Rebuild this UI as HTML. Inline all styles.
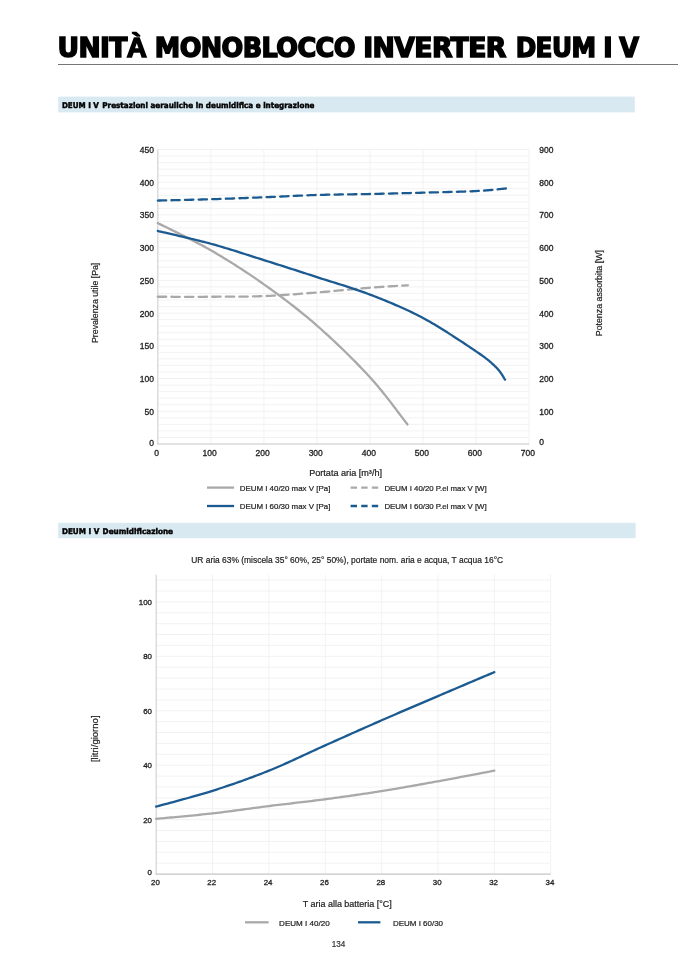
<!DOCTYPE html>
<html lang="it"><head><meta charset="utf-8"><title>Unità monoblocco inverter DEUM I V</title>
<style>
html,body{margin:0;padding:0;background:#fff;}
body{width:678px;height:959px;position:relative;overflow:hidden;}
svg{position:absolute;left:0;top:0;display:block;}
</style></head><body>
<svg width="678" height="959" viewBox="0 0 678 959">
<rect x="58" y="64" width="620" height="1" fill="#767676"/>
<rect x="58.2" y="96.6" width="576.6" height="15.8" fill="#d9e9f1"/>
<rect x="58.2" y="522.8" width="577.4" height="15.4" fill="#d9e9f1"/>
<g stroke="#f0f0f0" stroke-width="0.9">
<line x1="157.8" y1="437.46" x2="529.1" y2="437.46"/>
<line x1="157.8" y1="430.91" x2="529.1" y2="430.91"/>
<line x1="157.8" y1="424.37" x2="529.1" y2="424.37"/>
<line x1="157.8" y1="417.82" x2="529.1" y2="417.82"/>
<line x1="157.8" y1="411.28" x2="529.1" y2="411.28"/>
<line x1="157.8" y1="404.73" x2="529.1" y2="404.73"/>
<line x1="157.8" y1="398.19" x2="529.1" y2="398.19"/>
<line x1="157.8" y1="391.64" x2="529.1" y2="391.64"/>
<line x1="157.8" y1="385.10" x2="529.1" y2="385.10"/>
<line x1="157.8" y1="378.56" x2="529.1" y2="378.56"/>
<line x1="157.8" y1="372.01" x2="529.1" y2="372.01"/>
<line x1="157.8" y1="365.47" x2="529.1" y2="365.47"/>
<line x1="157.8" y1="358.92" x2="529.1" y2="358.92"/>
<line x1="157.8" y1="352.38" x2="529.1" y2="352.38"/>
<line x1="157.8" y1="345.83" x2="529.1" y2="345.83"/>
<line x1="157.8" y1="339.29" x2="529.1" y2="339.29"/>
<line x1="157.8" y1="332.74" x2="529.1" y2="332.74"/>
<line x1="157.8" y1="326.20" x2="529.1" y2="326.20"/>
<line x1="157.8" y1="319.66" x2="529.1" y2="319.66"/>
<line x1="157.8" y1="313.11" x2="529.1" y2="313.11"/>
<line x1="157.8" y1="306.57" x2="529.1" y2="306.57"/>
<line x1="157.8" y1="300.02" x2="529.1" y2="300.02"/>
<line x1="157.8" y1="293.48" x2="529.1" y2="293.48"/>
<line x1="157.8" y1="286.93" x2="529.1" y2="286.93"/>
<line x1="157.8" y1="280.39" x2="529.1" y2="280.39"/>
<line x1="157.8" y1="273.84" x2="529.1" y2="273.84"/>
<line x1="157.8" y1="267.30" x2="529.1" y2="267.30"/>
<line x1="157.8" y1="260.76" x2="529.1" y2="260.76"/>
<line x1="157.8" y1="254.21" x2="529.1" y2="254.21"/>
<line x1="157.8" y1="247.67" x2="529.1" y2="247.67"/>
<line x1="157.8" y1="241.12" x2="529.1" y2="241.12"/>
<line x1="157.8" y1="234.58" x2="529.1" y2="234.58"/>
<line x1="157.8" y1="228.03" x2="529.1" y2="228.03"/>
<line x1="157.8" y1="221.49" x2="529.1" y2="221.49"/>
<line x1="157.8" y1="214.94" x2="529.1" y2="214.94"/>
<line x1="157.8" y1="208.40" x2="529.1" y2="208.40"/>
<line x1="157.8" y1="201.86" x2="529.1" y2="201.86"/>
<line x1="157.8" y1="195.31" x2="529.1" y2="195.31"/>
<line x1="157.8" y1="188.77" x2="529.1" y2="188.77"/>
<line x1="157.8" y1="182.22" x2="529.1" y2="182.22"/>
<line x1="157.8" y1="175.68" x2="529.1" y2="175.68"/>
<line x1="157.8" y1="169.13" x2="529.1" y2="169.13"/>
<line x1="157.8" y1="162.59" x2="529.1" y2="162.59"/>
<line x1="157.8" y1="156.04" x2="529.1" y2="156.04"/>
<line x1="157.8" y1="149.50" x2="529.1" y2="149.50"/>
<line x1="210.84" y1="149.5" x2="210.84" y2="444.0"/>
<line x1="263.89" y1="149.5" x2="263.89" y2="444.0"/>
<line x1="316.93" y1="149.5" x2="316.93" y2="444.0"/>
<line x1="369.97" y1="149.5" x2="369.97" y2="444.0"/>
<line x1="423.01" y1="149.5" x2="423.01" y2="444.0"/>
<line x1="476.06" y1="149.5" x2="476.06" y2="444.0"/>
<line x1="529.10" y1="149.5" x2="529.10" y2="444.0"/>
<line x1="156.2" y1="863.21" x2="550.7" y2="863.21"/>
<line x1="156.2" y1="852.32" x2="550.7" y2="852.32"/>
<line x1="156.2" y1="841.44" x2="550.7" y2="841.44"/>
<line x1="156.2" y1="830.55" x2="550.7" y2="830.55"/>
<line x1="156.2" y1="819.66" x2="550.7" y2="819.66"/>
<line x1="156.2" y1="808.77" x2="550.7" y2="808.77"/>
<line x1="156.2" y1="797.88" x2="550.7" y2="797.88"/>
<line x1="156.2" y1="787.00" x2="550.7" y2="787.00"/>
<line x1="156.2" y1="776.11" x2="550.7" y2="776.11"/>
<line x1="156.2" y1="765.22" x2="550.7" y2="765.22"/>
<line x1="156.2" y1="754.33" x2="550.7" y2="754.33"/>
<line x1="156.2" y1="743.44" x2="550.7" y2="743.44"/>
<line x1="156.2" y1="732.56" x2="550.7" y2="732.56"/>
<line x1="156.2" y1="721.67" x2="550.7" y2="721.67"/>
<line x1="156.2" y1="710.78" x2="550.7" y2="710.78"/>
<line x1="156.2" y1="699.89" x2="550.7" y2="699.89"/>
<line x1="156.2" y1="689.00" x2="550.7" y2="689.00"/>
<line x1="156.2" y1="678.12" x2="550.7" y2="678.12"/>
<line x1="156.2" y1="667.23" x2="550.7" y2="667.23"/>
<line x1="156.2" y1="656.34" x2="550.7" y2="656.34"/>
<line x1="156.2" y1="645.45" x2="550.7" y2="645.45"/>
<line x1="156.2" y1="634.56" x2="550.7" y2="634.56"/>
<line x1="156.2" y1="623.68" x2="550.7" y2="623.68"/>
<line x1="156.2" y1="612.79" x2="550.7" y2="612.79"/>
<line x1="156.2" y1="601.90" x2="550.7" y2="601.90"/>
<line x1="156.2" y1="591.01" x2="550.7" y2="591.01"/>
<line x1="156.2" y1="580.12" x2="550.7" y2="580.12"/>
<line x1="212.56" y1="574.7" x2="212.56" y2="874.1"/>
<line x1="268.91" y1="574.7" x2="268.91" y2="874.1"/>
<line x1="325.27" y1="574.7" x2="325.27" y2="874.1"/>
<line x1="381.63" y1="574.7" x2="381.63" y2="874.1"/>
<line x1="437.99" y1="574.7" x2="437.99" y2="874.1"/>
<line x1="494.34" y1="574.7" x2="494.34" y2="874.1"/>
<line x1="550.70" y1="574.7" x2="550.70" y2="874.1"/>
</g>
<g font-family="Liberation Sans, Arial, sans-serif" font-size="8.5" fill="#222" stroke="#222" stroke-width="0.3">
<line x1="157.80" y1="149.5" x2="157.80" y2="444.6" stroke="#d4d4d4" stroke-width="1.2"/>
<line x1="157.20" y1="444.0" x2="529.10" y2="444.0" stroke="#c6c6c6" stroke-width="1.2"/>
<text x="153.9" y="445.50" text-anchor="end">0</text>
<text x="153.9" y="414.78" text-anchor="end">50</text>
<text x="153.9" y="382.06" text-anchor="end">100</text>
<text x="153.9" y="349.33" text-anchor="end">150</text>
<text x="153.9" y="316.61" text-anchor="end">200</text>
<text x="153.9" y="283.89" text-anchor="end">250</text>
<text x="153.9" y="251.17" text-anchor="end">300</text>
<text x="153.9" y="218.44" text-anchor="end">350</text>
<text x="153.9" y="185.72" text-anchor="end">400</text>
<text x="153.9" y="153.00" text-anchor="end">450</text>
<text x="539.3" y="444.70">0</text>
<text x="539.3" y="414.78">100</text>
<text x="539.3" y="382.06">200</text>
<text x="539.3" y="349.33">300</text>
<text x="539.3" y="316.61">400</text>
<text x="539.3" y="283.89">500</text>
<text x="539.3" y="251.17">600</text>
<text x="539.3" y="218.44">700</text>
<text x="539.3" y="185.72">800</text>
<text x="539.3" y="153.00">900</text>
<text x="156.60" y="456.2" text-anchor="middle">0</text>
<text x="209.64" y="456.2" text-anchor="middle">100</text>
<text x="262.69" y="456.2" text-anchor="middle">200</text>
<text x="315.73" y="456.2" text-anchor="middle">300</text>
<text x="368.77" y="456.2" text-anchor="middle">400</text>
<text x="421.81" y="456.2" text-anchor="middle">500</text>
<text x="474.86" y="456.2" text-anchor="middle">600</text>
<text x="527.90" y="456.2" text-anchor="middle">700</text>
<line x1="156.20" y1="574.7" x2="156.20" y2="874.7" stroke="#d4d4d4" stroke-width="1.2"/>
<line x1="155.60" y1="874.1" x2="550.70" y2="874.1" stroke="#c6c6c6" stroke-width="1.2"/>
<text x="152.0" y="874.50" text-anchor="end" font-size="7.9">0</text>
<text x="152.0" y="822.56" text-anchor="end" font-size="7.9">20</text>
<text x="152.0" y="768.12" text-anchor="end" font-size="7.9">40</text>
<text x="152.0" y="713.68" text-anchor="end" font-size="7.9">60</text>
<text x="152.0" y="659.24" text-anchor="end" font-size="7.9">80</text>
<text x="152.0" y="604.80" text-anchor="end" font-size="7.9">100</text>
<text x="155.40" y="884.9" text-anchor="middle" font-size="7.9">20</text>
<text x="211.76" y="884.9" text-anchor="middle" font-size="7.9">22</text>
<text x="268.11" y="884.9" text-anchor="middle" font-size="7.9">24</text>
<text x="324.47" y="884.9" text-anchor="middle" font-size="7.9">26</text>
<text x="380.83" y="884.9" text-anchor="middle" font-size="7.9">28</text>
<text x="437.19" y="884.9" text-anchor="middle" font-size="7.9">30</text>
<text x="493.54" y="884.9" text-anchor="middle" font-size="7.9">32</text>
<text x="549.90" y="884.9" text-anchor="middle" font-size="7.9">34</text>
</g>
<g fill="none" stroke-width="2.3" stroke-linecap="round" stroke-linejoin="round">
<path d="M157.80,296.75 L159.00,296.75 L160.36,296.75 L161.89,296.75 L163.57,296.76 L165.39,296.76 L167.33,296.77 L169.39,296.77 L171.55,296.77 L173.81,296.78 L176.14,296.78 L178.54,296.79 L181.01,296.79 L183.51,296.79 L186.06,296.80 L188.62,296.80 L191.20,296.80 L193.77,296.80 L196.34,296.80 L198.88,296.79 L201.39,296.79 L203.85,296.78 L206.25,296.77 L208.59,296.76 L210.84,296.75 L213.05,296.74 L215.26,296.73 L217.47,296.72 L219.68,296.71 L221.89,296.71 L224.10,296.70 L226.31,296.70 L228.52,296.69 L230.73,296.68 L232.94,296.67 L235.15,296.66 L237.36,296.65 L239.57,296.63 L241.78,296.61 L243.99,296.59 L246.20,296.56 L248.41,296.52 L250.62,296.48 L252.84,296.44 L255.05,296.38 L257.26,296.32 L259.47,296.26 L261.68,296.18 L263.89,296.10 L266.10,296.00 L268.31,295.90 L270.52,295.79 L272.73,295.68 L274.94,295.56 L277.15,295.43 L279.36,295.30 L281.57,295.16 L283.78,295.01 L285.99,294.86 L288.20,294.71 L290.41,294.55 L292.62,294.39 L294.83,294.23 L297.04,294.06 L299.25,293.89 L301.46,293.72 L303.67,293.55 L305.88,293.37 L308.09,293.20 L310.30,293.02 L312.51,292.85 L314.72,292.67 L316.93,292.50 L319.15,292.32 L321.40,292.13 L323.66,291.94 L325.94,291.74 L328.24,291.54 L330.54,291.33 L332.85,291.12 L335.17,290.90 L337.48,290.69 L339.80,290.47 L342.10,290.25 L344.39,290.03 L346.68,289.82 L348.94,289.60 L351.19,289.39 L353.41,289.18 L355.61,288.98 L357.77,288.77 L359.91,288.58 L362.01,288.39 L364.06,288.21 L366.08,288.04 L368.05,287.87 L369.97,287.72 L371.96,287.56 L373.95,287.41 L375.94,287.27 L377.94,287.13 L379.92,286.99 L381.90,286.86 L383.85,286.73 L385.78,286.61 L387.68,286.49 L389.54,286.37 L391.36,286.26 L393.13,286.16 L394.85,286.06 L396.51,285.96 L398.11,285.87 L399.63,285.78 L401.09,285.70 L402.46,285.62 L403.74,285.55 L404.93,285.48 L406.03,285.41 L407.02,285.35 L407.90,285.30" stroke="#a9a9a9" stroke-dasharray="8.4 5.2"/>
<path d="M157.80,200.55 L159.00,200.52 L160.36,200.49 L161.89,200.45 L163.57,200.41 L165.39,200.37 L167.33,200.33 L169.39,200.28 L171.55,200.23 L173.81,200.18 L176.14,200.13 L178.54,200.07 L181.01,200.01 L183.51,199.96 L186.06,199.90 L188.62,199.83 L191.20,199.77 L193.77,199.71 L196.34,199.64 L198.88,199.58 L201.39,199.51 L203.85,199.44 L206.25,199.37 L208.59,199.31 L210.84,199.24 L213.05,199.17 L215.26,199.10 L217.47,199.03 L219.68,198.95 L221.89,198.88 L224.10,198.80 L226.31,198.72 L228.52,198.64 L230.73,198.56 L232.94,198.48 L235.15,198.40 L237.36,198.32 L239.57,198.23 L241.78,198.15 L243.99,198.06 L246.20,197.98 L248.41,197.89 L250.62,197.80 L252.84,197.72 L255.05,197.63 L257.26,197.54 L259.47,197.45 L261.68,197.36 L263.89,197.27 L266.10,197.18 L268.31,197.09 L270.52,196.99 L272.73,196.90 L274.94,196.80 L277.15,196.69 L279.36,196.59 L281.57,196.49 L283.78,196.38 L285.99,196.28 L288.20,196.17 L290.41,196.07 L292.62,195.96 L294.83,195.86 L297.04,195.76 L299.25,195.66 L301.46,195.57 L303.67,195.47 L305.88,195.38 L308.09,195.29 L310.30,195.21 L312.51,195.13 L314.72,195.05 L316.93,194.98 L319.14,194.92 L321.35,194.86 L323.56,194.80 L325.77,194.75 L327.98,194.70 L330.19,194.65 L332.40,194.61 L334.61,194.57 L336.82,194.53 L339.03,194.50 L341.24,194.46 L343.45,194.43 L345.66,194.40 L347.87,194.37 L350.08,194.34 L352.29,194.31 L354.50,194.27 L356.71,194.24 L358.92,194.21 L361.13,194.17 L363.34,194.13 L365.55,194.09 L367.76,194.05 L369.97,194.00 L372.18,193.95 L374.39,193.91 L376.60,193.86 L378.81,193.81 L381.02,193.76 L383.23,193.71 L385.44,193.65 L387.65,193.60 L389.86,193.55 L392.07,193.50 L394.28,193.44 L396.49,193.39 L398.70,193.33 L400.91,193.28 L403.12,193.22 L405.33,193.17 L407.54,193.11 L409.75,193.05 L411.96,192.99 L414.17,192.93 L416.38,192.87 L418.59,192.81 L420.80,192.75 L423.01,192.69 L425.24,192.63 L427.51,192.57 L429.80,192.51 L432.12,192.45 L434.46,192.39 L436.81,192.33 L439.17,192.27 L441.54,192.21 L443.91,192.15 L446.27,192.08 L448.62,192.02 L450.96,191.96 L453.28,191.89 L455.57,191.83 L457.84,191.76 L460.07,191.69 L462.26,191.62 L464.40,191.54 L466.50,191.47 L468.54,191.39 L470.52,191.31 L472.44,191.23 L474.28,191.14 L476.06,191.06 L477.85,190.96 L479.62,190.86 L481.35,190.74 L483.05,190.63 L484.71,190.51 L486.33,190.38 L487.91,190.25 L489.45,190.12 L490.95,189.98 L492.40,189.85 L493.81,189.71 L495.16,189.58 L496.46,189.45 L497.72,189.32 L498.91,189.20 L500.05,189.08 L501.13,188.96 L502.15,188.85 L503.11,188.75 L504.01,188.66 L504.84,188.58 L505.60,188.50 L506.29,188.44" stroke="#1c5b91" stroke-dasharray="8.4 5.2"/>
<path d="M157.80,223.06 L159.00,223.67 L160.36,224.35 L161.89,225.11 L163.57,225.94 L165.39,226.84 L167.33,227.79 L169.39,228.80 L171.55,229.87 L173.81,230.98 L176.14,232.13 L178.54,233.32 L181.01,234.55 L183.51,235.80 L186.06,237.08 L188.62,238.38 L191.20,239.70 L193.77,241.03 L196.34,242.36 L198.88,243.70 L201.39,245.04 L203.85,246.37 L206.25,247.69 L208.59,249.00 L210.84,250.28 L213.05,251.57 L215.26,252.86 L217.47,254.16 L219.68,255.48 L221.89,256.81 L224.10,258.14 L226.31,259.50 L228.52,260.86 L230.73,262.23 L232.94,263.62 L235.15,265.01 L237.36,266.42 L239.57,267.85 L241.78,269.28 L243.99,270.73 L246.20,272.19 L248.41,273.66 L250.62,275.14 L252.84,276.64 L255.05,278.15 L257.26,279.67 L259.47,281.21 L261.68,282.75 L263.89,284.32 L266.10,285.89 L268.31,287.47 L270.52,289.05 L272.73,290.65 L274.94,292.26 L277.15,293.87 L279.36,295.50 L281.57,297.14 L283.78,298.79 L285.99,300.45 L288.20,302.13 L290.41,303.83 L292.62,305.53 L294.83,307.26 L297.04,309.00 L299.25,310.76 L301.46,312.54 L303.67,314.33 L305.88,316.15 L308.09,317.98 L310.30,319.84 L312.51,321.72 L314.72,323.62 L316.93,325.55 L319.15,327.50 L321.40,329.50 L323.67,331.54 L325.95,333.61 L328.25,335.71 L330.55,337.84 L332.87,339.99 L335.19,342.17 L337.50,344.36 L339.82,346.57 L342.12,348.79 L344.42,351.02 L346.71,353.26 L348.97,355.49 L351.22,357.73 L353.44,359.96 L355.64,362.18 L357.80,364.39 L359.94,366.59 L362.03,368.77 L364.08,370.93 L366.10,373.06 L368.06,375.17 L369.97,377.25 L371.94,379.43 L373.93,381.68 L375.91,383.97 L377.88,386.31 L379.85,388.68 L381.80,391.06 L383.74,393.46 L385.64,395.85 L387.52,398.24 L389.36,400.60 L391.16,402.92 L392.91,405.21 L394.60,407.43 L396.24,409.60 L397.82,411.69 L399.32,413.69 L400.75,415.60 L402.10,417.40 L403.37,419.08 L404.55,420.64 L405.62,422.05 L406.60,423.32 L407.47,424.43" stroke="#a9a9a9"/>
<path d="M157.80,230.98 L159.00,231.26 L160.36,231.58 L161.89,231.94 L163.57,232.33 L165.39,232.74 L167.33,233.19 L169.39,233.66 L171.55,234.15 L173.81,234.67 L176.14,235.21 L178.54,235.76 L181.01,236.34 L183.51,236.92 L186.06,237.52 L188.62,238.13 L191.20,238.75 L193.77,239.37 L196.34,240.00 L198.88,240.63 L201.39,241.26 L203.85,241.89 L206.25,242.51 L208.59,243.13 L210.84,243.74 L213.05,244.35 L215.26,244.98 L217.47,245.61 L219.68,246.25 L221.89,246.90 L224.10,247.56 L226.31,248.23 L228.52,248.90 L230.73,249.58 L232.94,250.27 L235.15,250.96 L237.36,251.65 L239.57,252.35 L241.78,253.06 L243.99,253.76 L246.20,254.47 L248.41,255.17 L250.62,255.88 L252.84,256.59 L255.05,257.29 L257.26,258.00 L259.47,258.70 L261.68,259.40 L263.89,260.10 L266.10,260.80 L268.31,261.49 L270.52,262.19 L272.73,262.89 L274.94,263.60 L277.15,264.30 L279.36,265.00 L281.57,265.71 L283.78,266.41 L285.99,267.12 L288.20,267.83 L290.41,268.54 L292.62,269.25 L294.83,269.96 L297.04,270.67 L299.25,271.39 L301.46,272.10 L303.67,272.82 L305.88,273.53 L308.09,274.25 L310.30,274.96 L312.51,275.68 L314.72,276.40 L316.93,277.12 L319.14,277.83 L321.35,278.54 L323.56,279.24 L325.77,279.93 L327.98,280.62 L330.19,281.31 L332.40,282.00 L334.61,282.69 L336.82,283.37 L339.03,284.06 L341.24,284.76 L343.45,285.45 L345.66,286.16 L347.87,286.86 L350.08,287.58 L352.29,288.31 L354.50,289.04 L356.71,289.79 L358.92,290.55 L361.13,291.33 L363.34,292.12 L365.55,292.92 L367.76,293.75 L369.97,294.59 L372.18,295.44 L374.39,296.30 L376.60,297.17 L378.81,298.04 L381.02,298.91 L383.23,299.80 L385.44,300.69 L387.65,301.59 L389.86,302.51 L392.07,303.43 L394.28,304.37 L396.49,305.32 L398.70,306.28 L400.91,307.26 L403.12,308.25 L405.33,309.26 L407.54,310.28 L409.75,311.33 L411.96,312.39 L414.17,313.47 L416.38,314.58 L418.59,315.70 L420.80,316.85 L423.01,318.02 L425.25,319.23 L427.54,320.50 L429.87,321.83 L432.24,323.20 L434.63,324.61 L437.05,326.06 L439.48,327.53 L441.91,329.03 L444.35,330.54 L446.78,332.07 L449.20,333.60 L451.59,335.13 L453.96,336.66 L456.29,338.17 L458.57,339.67 L460.81,341.14 L462.99,342.58 L465.11,343.98 L467.15,345.34 L469.12,346.66 L471.00,347.92 L472.79,349.13 L474.48,350.26 L476.06,351.33 L477.54,352.33 L478.92,353.29 L480.23,354.19 L481.45,355.06 L482.60,355.88 L483.67,356.66 L484.68,357.40 L485.63,358.12 L486.52,358.80 L487.36,359.46 L488.15,360.09 L488.90,360.70 L489.61,361.29 L490.28,361.87 L490.93,362.44 L491.55,362.99 L492.16,363.54 L492.74,364.08 L493.32,364.63 L493.89,365.17 L494.46,365.72 L495.04,366.28 L495.62,366.85 L496.21,367.43 L496.83,368.05 L497.42,368.67 L497.99,369.30 L498.53,369.93 L499.05,370.56 L499.54,371.19 L500.01,371.82 L500.46,372.43 L500.89,373.05 L501.30,373.65 L501.69,374.23 L502.06,374.81 L502.41,375.37 L502.74,375.90 L503.06,376.42 L503.35,376.92 L503.63,377.39 L503.90,377.84 L504.15,378.26 L504.39,378.64 L504.61,379.00 L504.82,379.32 L505.02,379.60" stroke="#1c5b91"/>
<path d="M207,487.6 H234.1" stroke="#a9a9a9" stroke-linecap="butt"/>
<path d="M207,506.0 H234.1" stroke="#1c5b91" stroke-linecap="butt"/>
<path d="M350.6,487.6 H378.2" stroke="#a9a9a9" stroke-dasharray="6.4 4.2" stroke-linecap="butt"/>
<path d="M350.6,506.0 H378.2" stroke="#1c5b91" stroke-dasharray="6.4 4.2" stroke-linecap="butt"/>
<path d="M156.20,818.84 L157.47,818.72 L158.92,818.59 L160.55,818.44 L162.33,818.27 L164.26,818.10 L166.33,817.91 L168.51,817.71 L170.81,817.50 L173.21,817.28 L175.69,817.06 L178.24,816.82 L180.86,816.58 L183.52,816.33 L186.22,816.08 L188.95,815.82 L191.68,815.56 L194.42,815.29 L197.15,815.02 L199.85,814.75 L202.51,814.48 L205.13,814.21 L207.68,813.94 L210.16,813.67 L212.56,813.40 L214.91,813.13 L217.25,812.85 L219.60,812.57 L221.95,812.28 L224.30,811.98 L226.65,811.68 L228.99,811.38 L231.34,811.07 L233.69,810.76 L236.04,810.44 L238.39,810.13 L240.74,809.81 L243.08,809.49 L245.43,809.17 L247.78,808.85 L250.13,808.53 L252.48,808.21 L254.82,807.89 L257.17,807.58 L259.52,807.27 L261.87,806.96 L264.22,806.65 L266.57,806.35 L268.91,806.05 L271.26,805.76 L273.61,805.47 L275.96,805.18 L278.31,804.90 L280.66,804.62 L283.00,804.34 L285.35,804.07 L287.70,803.79 L290.05,803.52 L292.40,803.24 L294.74,802.97 L297.09,802.70 L299.44,802.42 L301.79,802.15 L304.14,801.87 L306.49,801.59 L308.83,801.31 L311.18,801.03 L313.53,800.74 L315.88,800.45 L318.23,800.16 L320.58,799.86 L322.92,799.55 L325.27,799.25 L327.62,798.93 L329.97,798.62 L332.32,798.30 L334.66,797.98 L337.01,797.66 L339.36,797.34 L341.71,797.01 L344.06,796.68 L346.41,796.35 L348.75,796.02 L351.10,795.69 L353.45,795.35 L355.80,795.01 L358.15,794.67 L360.49,794.32 L362.84,793.97 L365.19,793.62 L367.54,793.27 L369.89,792.91 L372.24,792.55 L374.58,792.19 L376.93,791.82 L379.28,791.45 L381.63,791.08 L383.98,790.70 L386.33,790.32 L388.67,789.94 L391.02,789.55 L393.37,789.16 L395.72,788.76 L398.07,788.37 L400.41,787.96 L402.76,787.56 L405.11,787.15 L407.46,786.74 L409.81,786.33 L412.16,785.92 L414.50,785.50 L416.85,785.09 L419.20,784.67 L421.55,784.25 L423.90,783.83 L426.24,783.40 L428.59,782.98 L430.94,782.55 L433.29,782.13 L435.64,781.71 L437.99,781.28 L440.49,780.82 L443.08,780.35 L445.75,779.86 L448.49,779.35 L451.28,778.83 L454.10,778.30 L456.95,777.77 L459.81,777.23 L462.66,776.69 L465.50,776.15 L468.30,775.62 L471.06,775.10 L473.75,774.59 L476.38,774.09 L478.91,773.60 L481.34,773.14 L483.66,772.70 L485.84,772.28 L487.89,771.89 L489.77,771.53 L491.48,771.21 L493.01,770.92 L494.34,770.66" stroke="#a9a9a9"/>
<path d="M156.20,806.59 L157.47,806.24 L158.92,805.85 L160.55,805.41 L162.33,804.93 L164.26,804.41 L166.33,803.86 L168.51,803.28 L170.81,802.66 L173.21,802.02 L175.69,801.36 L178.24,800.67 L180.86,799.96 L183.52,799.23 L186.22,798.49 L188.95,797.74 L191.68,796.98 L194.42,796.21 L197.15,795.43 L199.85,794.65 L202.51,793.87 L205.13,793.10 L207.68,792.33 L210.16,791.56 L212.56,790.81 L214.91,790.06 L217.25,789.30 L219.60,788.53 L221.95,787.76 L224.30,786.98 L226.65,786.20 L228.99,785.41 L231.34,784.61 L233.69,783.80 L236.04,782.98 L238.39,782.16 L240.74,781.33 L243.08,780.49 L245.43,779.64 L247.78,778.79 L250.13,777.92 L252.48,777.05 L254.82,776.17 L257.17,775.27 L259.52,774.37 L261.87,773.46 L264.22,772.54 L266.57,771.61 L268.91,770.66 L271.26,769.71 L273.61,768.73 L275.96,767.75 L278.31,766.74 L280.66,765.72 L283.00,764.69 L285.35,763.65 L287.70,762.60 L290.05,761.54 L292.40,760.47 L294.74,759.39 L297.09,758.31 L299.44,757.23 L301.79,756.14 L304.14,755.05 L306.49,753.96 L308.83,752.87 L311.18,751.78 L313.53,750.69 L315.88,749.61 L318.23,748.54 L320.58,747.47 L322.92,746.40 L325.27,745.35 L327.62,744.30 L329.97,743.25 L332.32,742.20 L334.66,741.15 L337.01,740.10 L339.36,739.05 L341.71,738.00 L344.06,736.95 L346.41,735.90 L348.75,734.85 L351.10,733.81 L353.45,732.76 L355.80,731.71 L358.15,730.67 L360.49,729.63 L362.84,728.58 L365.19,727.54 L367.54,726.50 L369.89,725.47 L372.24,724.43 L374.58,723.40 L376.93,722.36 L379.28,721.33 L381.63,720.31 L383.98,719.28 L386.33,718.26 L388.67,717.24 L391.02,716.22 L393.37,715.20 L395.72,714.19 L398.07,713.17 L400.41,712.16 L402.76,711.15 L405.11,710.14 L407.46,709.13 L409.81,708.13 L412.16,707.12 L414.50,706.11 L416.85,705.11 L419.20,704.11 L421.55,703.10 L423.90,702.10 L426.24,701.10 L428.59,700.09 L430.94,699.09 L433.29,698.09 L435.64,697.08 L437.99,696.08 L440.49,695.01 L443.08,693.91 L445.75,692.77 L448.49,691.60 L451.28,690.41 L454.10,689.21 L456.95,688.00 L459.81,686.78 L462.66,685.57 L465.50,684.37 L468.30,683.18 L471.06,682.01 L473.75,680.86 L476.38,679.75 L478.91,678.68 L481.34,677.65 L483.66,676.66 L485.84,675.74 L487.89,674.87 L489.77,674.07 L491.48,673.34 L493.01,672.69 L494.34,672.13" stroke="#1c5b91"/>
<path d="M245,922.3 H268.6" stroke="#a9a9a9" stroke-linecap="butt"/>
<path d="M358,922.3 H380.4" stroke="#1c5b91" stroke-linecap="butt"/>
</g>
<text transform="translate(57.49,57.00) scale(1.0102,1)" letter-spacing="-0.6" font-family="DejaVu Sans, sans-serif" font-size="26.3" fill="#000" font-weight="700" stroke="#000" stroke-width="1.5">UNIT<tspan font-family="Liberation Sans, sans-serif" font-size="27.6">À</tspan></text>
<text transform="translate(154.83,57.00) scale(0.9712,1)" letter-spacing="-0.6" font-family="DejaVu Sans, sans-serif" font-size="26.3" fill="#000" font-weight="700" stroke="#000" stroke-width="1.5">MONOBLOCCO</text>
<text transform="translate(363.19,57.00) scale(1.0149,1)" letter-spacing="-0.6" font-family="DejaVu Sans, sans-serif" font-size="26.3" fill="#000" font-weight="700" stroke="#000" stroke-width="1.5">INVERTER</text>
<text transform="translate(515.66,57.00) scale(0.9410,1)" letter-spacing="-0.6" font-family="DejaVu Sans, sans-serif" font-size="26.3" fill="#000" font-weight="700" stroke="#000" stroke-width="1.5">DEUM</text>
<text transform="translate(603.24,57.00) scale(0.9571,1)" letter-spacing="-0.6" font-family="DejaVu Sans, sans-serif" font-size="26.3" fill="#000" font-weight="700" stroke="#000" stroke-width="1.5">I</text>
<text transform="translate(619.27,57.00) scale(0.9682,1)" letter-spacing="-0.6" font-family="DejaVu Sans, sans-serif" font-size="26.3" fill="#000" font-weight="700" stroke="#000" stroke-width="1.5">V</text>
<text x="61.90" y="108.40" textLength="37.02" lengthAdjust="spacingAndGlyphs" font-family="DejaVu Sans, sans-serif" font-size="7.8" fill="#000" font-weight="700" stroke="#000" stroke-width="0.45">DEUM I V</text>
<text x="102.30" y="108.40" textLength="212.14" lengthAdjust="spacingAndGlyphs" font-family="DejaVu Sans, sans-serif" font-size="7.8" fill="#000" font-weight="700" stroke="#000" stroke-width="0.45">Prestazioni aerauliche in deumidifica e integrazione</text>
<text x="61.90" y="534.00" textLength="37.42" lengthAdjust="spacingAndGlyphs" font-family="DejaVu Sans, sans-serif" font-size="7.8" fill="#000" font-weight="700" stroke="#000" stroke-width="0.45">DEUM I V</text>
<text x="102.60" y="534.00" textLength="70.47" lengthAdjust="spacingAndGlyphs" font-family="DejaVu Sans, sans-serif" font-size="7.8" fill="#000" font-weight="700" stroke="#000" stroke-width="0.45">Deumidificazione</text>
<text x="239.70" y="490.80" textLength="90.67" lengthAdjust="spacingAndGlyphs" font-family="Liberation Sans, sans-serif" font-size="7.4" fill="#222" stroke="#222" stroke-width="0.2">DEUM I 40/20 max V [Pa]</text>
<text x="239.70" y="509.20" textLength="90.67" lengthAdjust="spacingAndGlyphs" font-family="Liberation Sans, sans-serif" font-size="7.4" fill="#222" stroke="#222" stroke-width="0.2">DEUM I 60/30 max V [Pa]</text>
<text x="384.40" y="490.80" textLength="102.31" lengthAdjust="spacingAndGlyphs" font-family="Liberation Sans, sans-serif" font-size="7.4" fill="#222" stroke="#222" stroke-width="0.2">DEUM I 40/20 P.el max V [W]</text>
<text x="384.40" y="509.20" textLength="102.31" lengthAdjust="spacingAndGlyphs" font-family="Liberation Sans, sans-serif" font-size="7.4" fill="#222" stroke="#222" stroke-width="0.2">DEUM I 60/30 P.el max V [W]</text>
<text x="309.20" y="475.80" textLength="72.83" lengthAdjust="spacingAndGlyphs" font-family="Liberation Sans, sans-serif" font-size="8.4" fill="#222" stroke="#222" stroke-width="0.2">Portata aria [m³/h]</text>
<text x="191.20" y="563.00" textLength="311.90" lengthAdjust="spacingAndGlyphs" font-family="Liberation Sans, sans-serif" font-size="8.8" fill="#222" stroke="#222" stroke-width="0.2">UR aria 63% (miscela 35° 60%, 25° 50%), portate nom. aria e acqua, T acqua 16°C</text>
<text x="302.70" y="907.00" textLength="89.08" lengthAdjust="spacingAndGlyphs" font-family="Liberation Sans, sans-serif" font-size="8.4" fill="#222" stroke="#222" stroke-width="0.2">T aria alla batteria [°C]</text>
<text x="279.10" y="925.80" textLength="50.66" lengthAdjust="spacingAndGlyphs" font-family="Liberation Sans, sans-serif" font-size="7.4" fill="#222" stroke="#222" stroke-width="0.2">DEUM I 40/20</text>
<text x="393.00" y="925.80" textLength="50.05" lengthAdjust="spacingAndGlyphs" font-family="Liberation Sans, sans-serif" font-size="7.4" fill="#222" stroke="#222" stroke-width="0.2">DEUM I 60/30</text>
<text x="331.80" y="946.70" textLength="13.48" lengthAdjust="spacingAndGlyphs" font-family="Liberation Sans, sans-serif" font-size="8.4" fill="#333" stroke="#333" stroke-width="0.2">134</text>
<text x="0" y="0" transform="translate(97.60,343.00) rotate(-90)" textLength="80.32" lengthAdjust="spacingAndGlyphs" font-family="Liberation Sans, sans-serif" font-size="8.4" fill="#222" stroke="#222" stroke-width="0.2">Prevalenza utile [Pa]</text>
<text x="0" y="0" transform="translate(601.70,336.25) rotate(-90)" textLength="86.18" lengthAdjust="spacingAndGlyphs" font-family="Liberation Sans, sans-serif" font-size="8.4" fill="#222" stroke="#222" stroke-width="0.2">Potenza assorbita [W]</text>
<text x="0" y="0" transform="translate(98.30,762.10) rotate(-90)" textLength="46.66" lengthAdjust="spacingAndGlyphs" font-family="Liberation Sans, sans-serif" font-size="8.4" fill="#222" stroke="#222" stroke-width="0.2">[litri/giorno]</text>
</svg>
</body></html>
